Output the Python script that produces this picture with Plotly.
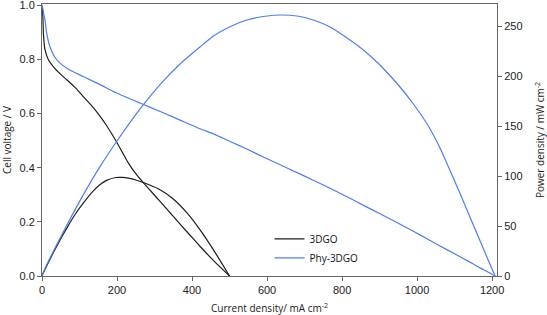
import plotly.graph_objects as go

# 3DGO
j_3dgo = [0, 2, 4, 8, 17, 30, 50, 66, 90, 110, 135, 155, 172, 197, 215, 230, 250, 270, 310, 350, 390, 421, 460, 500]
v_3dgo = [1.0, 0.97, 0.89, 0.836, 0.799, 0.774, 0.745, 0.725, 0.694, 0.663, 0.625, 0.59, 0.556, 0.50, 0.455, 0.418, 0.378, 0.345, 0.283, 0.22, 0.158, 0.11, 0.053, 0.0]
p_3dgo = [0, 1.9, 3.6, 6.7, 13.6, 23.2, 37.3, 47.9, 62.5, 72.9, 84.4, 91.5, 95.6, 98.5, 98.6, 97.8, 96.0, 93.5, 87.2, 77.0, 61.6, 46.3, 24.4, 0]

# Phy-3DGO
j_phy = [0, 2, 5, 8, 12.5, 21, 39, 66, 110, 155, 199, 261, 320, 368, 421, 457, 500, 546, 600, 635, 680, 723, 768,
         821, 860, 901, 950, 990, 1030, 1061, 1100, 1124, 1150, 1168, 1190, 1208]
v_phy = [1.0, 0.99, 0.965, 0.946, 0.897, 0.848, 0.799, 0.768, 0.737, 0.707, 0.676, 0.639, 0.605, 0.576, 0.544, 0.525,
         0.498, 0.469, 0.433, 0.411, 0.382, 0.354, 0.324, 0.287, 0.259, 0.23, 0.195, 0.165, 0.135, 0.111, 0.082,
         0.064, 0.044, 0.030, 0.014, 0.0]
p_phy = [0, 2.0, 4.8, 7.6, 11.2, 17.8, 31.2, 50.7, 81.1, 109.6, 134.5, 166.8, 193.6, 212, 229, 240, 249, 256, 260,
         261, 260, 256, 249, 236, 225, 211, 191, 172, 150, 128, 95, 74, 51, 35, 15.5, 0]

BLACK = "#1e1e1e"
BLUE = "#4d7ef4"

fig = go.Figure()
fig.add_trace(go.Scatter(x=j_3dgo, y=v_3dgo, mode="lines", name="3DGO",
                         line=dict(color=BLACK, width=1.2, shape="spline", smoothing=0.6)))
fig.add_trace(go.Scatter(x=j_phy, y=v_phy, mode="lines", name="Phy-3DGO",
                         line=dict(color=BLUE, width=1.2, shape="spline", smoothing=0.6)))
fig.add_trace(go.Scatter(x=j_3dgo, y=p_3dgo, mode="lines", name="3DGO", showlegend=False, yaxis="y2",
                         line=dict(color=BLACK, width=1.2, shape="spline", smoothing=0.6)))
fig.add_trace(go.Scatter(x=j_phy, y=p_phy, mode="lines", name="Phy-3DGO", showlegend=False, yaxis="y2",
                         line=dict(color=BLUE, width=1.2, shape="spline", smoothing=0.6)))

tickfont = dict(family="Liberation Sans, Arial, sans-serif", size=11, color="#222")
titlefont = dict(family="Open Sans, Noto Sans, sans-serif", size=10, color="#222")
AX = "#666"

fig.update_layout(
    width=547, height=315,
    margin=dict(l=42, r=50, t=4, b=39),
    paper_bgcolor="white", plot_bgcolor="white",
    xaxis=dict(range=[0, 1213], tickvals=[0, 200, 400, 600, 800, 1000, 1200], ticks="outside", ticklen=4,
               tickcolor=AX, showline=True, linecolor=AX, linewidth=1, mirror=True, showgrid=False,
               zeroline=False, tickfont=tickfont, automargin=False, ticklabeloverflow="allow",
               title=dict(text="Current density/ mA cm<sup>-2</sup>", font=titlefont)),
    yaxis=dict(range=[0, 1.005], tickvals=[0, 0.2, 0.4, 0.6, 0.8, 1.0], tickformat=".1f", ticks="outside",
               ticklen=4, tickcolor=AX, showline=True, linecolor=AX, linewidth=1, showgrid=False,
               zeroline=False, tickfont=tickfont, automargin=False, ticklabeloverflow="allow",
               title=dict(text="Cell voltage / V", font=titlefont)),
    yaxis2=dict(range=[0, 272], tickvals=[0, 50, 100, 150, 200, 250], overlaying="y", side="right",
                ticks="outside", ticklen=4, tickcolor=AX, showline=True, linecolor=AX, linewidth=1,
                showgrid=False, zeroline=False, tickfont=tickfont, automargin=False, ticklabeloverflow="allow",
                title=dict(text="Power density / mW cm<sup>-2</sup>", font=titlefont)),
    legend=dict(x=0.5, y=0.19, xanchor="left", yanchor="top", bgcolor="rgba(0,0,0,0)",
                font=dict(family="Open Sans, Noto Sans, sans-serif", size=10, color="#111"),
                tracegroupgap=0, itemwidth=30),
    showlegend=True,
)

fig.write_html("out.html", config={"displayModeBar": False},
               post_script="document.body.style.margin='0';")
